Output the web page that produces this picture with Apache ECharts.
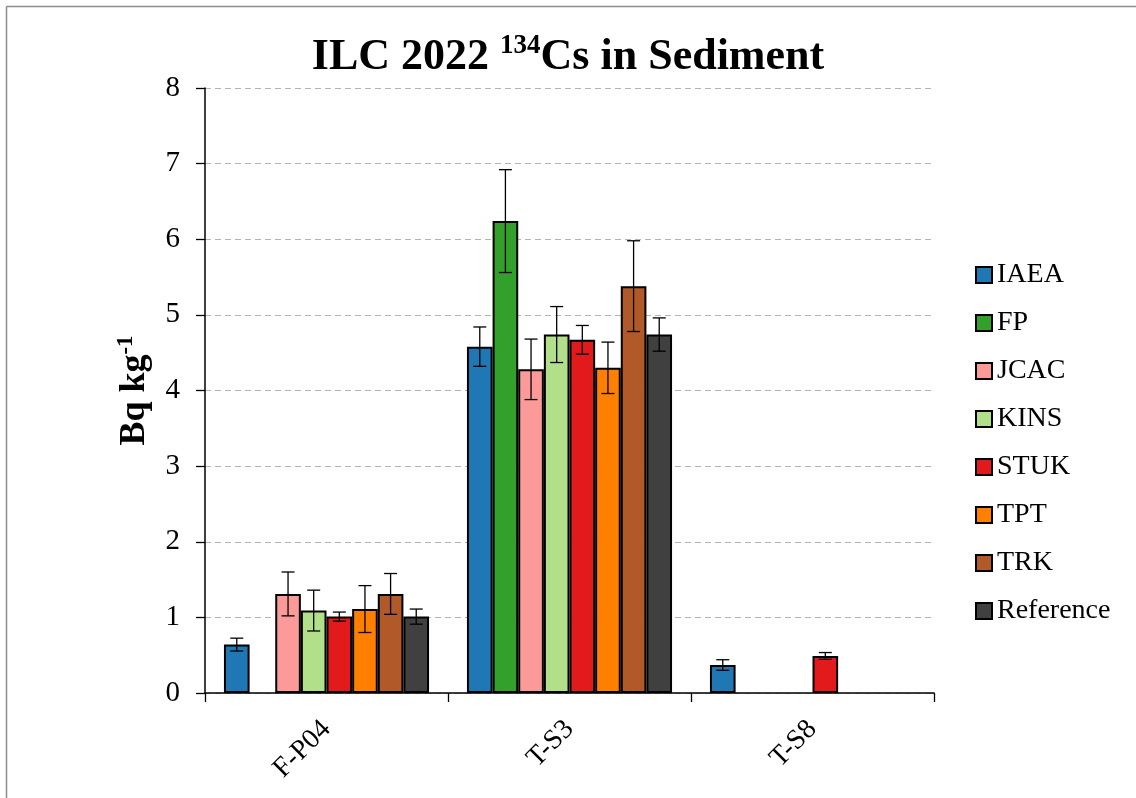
<!DOCTYPE html>
<html>
<head>
<meta charset="utf-8">
<title>ILC 2022 134Cs in Sediment</title>
<script src="https://cdn.jsdelivr.net/npm/echarts@6/dist/echarts.min.js"></script>
<style>
  html, body { margin: 0; padding: 0; background: #ffffff; }
  #chart { width: 1136px; height: 798px; }
</style>
</head>
<body>
<div id="chart"></div>
<script>
// Sample sites on the x axis
const categories = ['F-P04', 'T-S3', 'T-S8'];

// Laboratories (bar series), in drawing order
const labNames = ['IAEA', 'FP', 'JCAC', 'KINS', 'STUK', 'TPT', 'TRK', 'Reference'];
const labColors = ['#1f77b4', '#33a02c', '#fb9a99', '#b2df8a', '#e31a1c', '#ff7f00', '#b15928', '#404040'];

// Activity concentrations (Bq/kg) and their uncertainties per site
const valIAEA = [0.64, 4.58, 0.37];
const uncIAEA = [0.085, 0.26, 0.07];
const valFP = [null, 6.24, null];
const uncFP = [null, 0.68, null];
const valJCAC = [1.31, 4.28, null];
const uncJCAC = [0.29, 0.40, null];
const valKINS = [1.09, 4.74, null];
const uncKINS = [0.27, 0.37, null];
const valSTUK = [1.01, 4.67, 0.49];
const uncSTUK = [0.06, 0.19, 0.045];
const valTPT = [1.11, 4.30, null];
const uncTPT = [0.31, 0.34, null];
const valTRK = [1.31, 5.38, null];
const uncTRK = [0.27, 0.60, null];
const valRef = [1.01, 4.74, null];
const uncRef = [0.10, 0.22, null];

// Y axis ticks
const yMin = 0, yMax = 8, yStep = 1;

const allValues = [valIAEA, valFP, valJCAC, valKINS, valSTUK, valTPT, valTRK, valRef];
const allUnc = [uncIAEA, uncFP, uncJCAC, uncKINS, uncSTUK, uncTPT, uncTRK, uncRef];

const SERIF = '"Liberation Serif", "Times New Roman", "DejaVu Serif", serif';
const CATEGORY_GAP = 0.156;
const nLabs = labNames.length;

const barSeries = labNames.map((name, k) => ({
  name: name,
  type: 'bar',
  data: allValues[k],
  barGap: '0%',
  barCategoryGap: (CATEGORY_GAP * 100) + '%',
  itemStyle: { color: labColors[k], borderColor: '#000000', borderWidth: 2 },
  emphasis: { disabled: true },
  z: 2
}));

// Error bars: [categoryIndex, value, uncertainty, labIndex]
const errData = [];
allValues.forEach((vals, k) => {
  vals.forEach((v, i) => {
    if (v != null && allUnc[k][i] != null) errData.push([i, v, allUnc[k][i], k]);
  });
});

function renderErrorBar(params, api) {
  const cat = api.value(0), val = api.value(1), err = api.value(2), k = api.value(3);
  const band = api.size([1, 0])[0];
  const bw = band * (1 - CATEGORY_GAP) / nLabs;
  const cx = api.coord([cat, 0])[0] + (k - (nLabs - 1) / 2) * bw;
  const yHi = api.coord([cat, val + err])[1];
  const yLo = api.coord([cat, val - err])[1];
  const cap = 6.5;
  const style = { stroke: '#000000', lineWidth: 1.3 };
  return {
    type: 'group',
    children: [
      { type: 'line', shape: { x1: cx, y1: yHi, x2: cx, y2: yLo }, style: style },
      { type: 'line', shape: { x1: cx - cap, y1: yHi, x2: cx + cap, y2: yHi }, style: style },
      { type: 'line', shape: { x1: cx - cap, y1: yLo, x2: cx + cap, y2: yLo }, style: style }
    ]
  };
}

const chart = echarts.init(document.getElementById('chart'), null, { renderer: 'canvas' });

chart.setOption({
  backgroundColor: '#ffffff',
  animation: false,
  textStyle: { fontFamily: SERIF },
  title: {
    text: '{t|ILC 2022 }{s|134}{t|Cs in Sediment}',
    left: 'center',
    top: 28,
    textStyle: {
      rich: {
        t: { fontFamily: SERIF, fontWeight: 'bold', fontSize: 44, color: '#000000', lineHeight: 50 },
        s: { fontFamily: SERIF, fontWeight: 'bold', fontSize: 27, color: '#000000', verticalAlign: 'top', lineHeight: 28 }
      }
    }
  },
  legend: {
    data: labNames,
    orient: 'vertical',
    left: 975,
    top: 260,
    padding: 0,
    itemWidth: 16,
    itemHeight: 16,
    itemGap: 18,
    icon: 'rect',
    selectedMode: false,
    itemStyle: { borderColor: '#000000', borderWidth: 2 },
    textStyle: { fontFamily: SERIF, fontSize: 28, color: '#000000', lineHeight: 30 }
  },
  grid: { left: 205, right: 202, top: 88, bottom: 105, containLabel: false },
  xAxis: {
    type: 'category',
    data: categories,
    axisLine: { lineStyle: { color: '#000000', width: 1.5 } },
    axisTick: { show: true, length: 9, inside: false, lineStyle: { color: '#000000', width: 1.3 } },
    axisLabel: { rotate: 45, margin: 32, fontFamily: SERIF, fontSize: 28, color: '#000000' },
    splitLine: { show: false }
  },
  yAxis: {
    type: 'value',
    min: yMin,
    max: yMax,
    interval: yStep,
    name: '{b|Bq kg}{s|-1}',
    nameLocation: 'middle',
    nameRotate: 90,
    nameGap: 50,
    nameTextStyle: {
      rich: {
        b: { fontFamily: SERIF, fontWeight: 'bold', fontSize: 36, color: '#000000', lineHeight: 40 },
        s: { fontFamily: SERIF, fontWeight: 'bold', fontSize: 23, color: '#000000', verticalAlign: 'top', lineHeight: 24 }
      }
    },
    axisLine: { show: true, lineStyle: { color: '#000000', width: 1.5 } },
    axisTick: { show: true, length: 9, inside: false, lineStyle: { color: '#000000', width: 1.3 } },
    axisLabel: { margin: 25, fontFamily: SERIF, fontSize: 29, color: '#000000' },
    splitLine: { show: true, lineStyle: { color: '#b4b4b4', width: 1.2, type: [6, 4] } }
  },
  graphic: [
    { type: 'line', shape: { x1: 6.5, y1: 6.5, x2: 1136, y2: 6.5 }, style: { stroke: '#8c8c8c', lineWidth: 1.5 }, silent: true },
    { type: 'line', shape: { x1: 6.5, y1: 6.5, x2: 6.5, y2: 798 }, style: { stroke: '#8c8c8c', lineWidth: 1.5 }, silent: true }
  ],
  series: barSeries.concat([{
    name: 'uncertainty',
    type: 'custom',
    renderItem: renderErrorBar,
    data: errData,
    encode: { x: 0, y: 1 },
    silent: true,
    z: 5
  }])
});
</script>
</body>
</html>
